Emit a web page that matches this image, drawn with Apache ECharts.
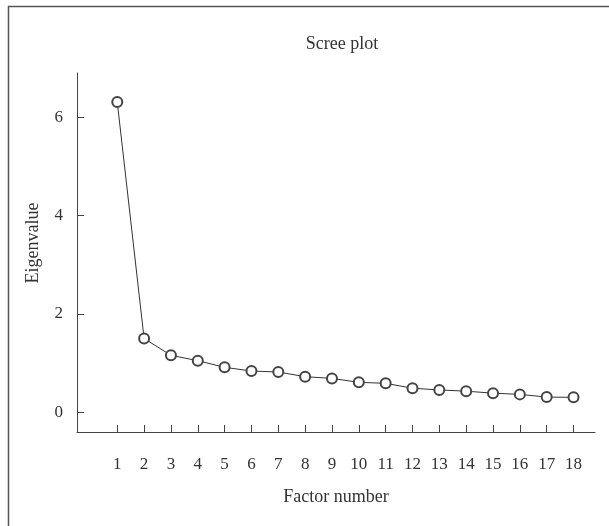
<!DOCTYPE html>
<html>
<head>
<meta charset="utf-8">
<script src="https://cdn.jsdelivr.net/npm/echarts@6/dist/echarts.min.js"></script>
<style>
  html, body { margin: 0; padding: 0; background: #fff; }
  #main { width: 609px; height: 526px; }
</style>
</head>
<body>
<div id="main"></div>
<script>
// scree plot data
var factors = [1, 2, 3, 4, 5, 6, 7, 8, 9, 10, 11, 12, 13, 14, 15, 16, 17, 18];
var eigenvalues = [6.31, 1.50, 1.16, 1.05, 0.915, 0.84, 0.82, 0.725, 0.69, 0.61, 0.59, 0.49, 0.455, 0.43, 0.39, 0.365, 0.31, 0.305];
var yTicks = [0, 2, 4, 6];

var chart = echarts.init(document.getElementById('main'));
var font = '"Liberation Serif", "DejaVu Serif", serif';
var ink = '#333';

chart.setOption({
  animation: false,
  textStyle: { fontFamily: font },
  title: {
    text: 'Scree plot',
    left: 337,
    top: 30,
    textAlign: 'center',
    textStyle: { fontFamily: font, fontWeight: 'normal', fontSize: 18, color: ink }
  },
  grid: { left: 77, right: 14, top: 73, bottom: 94 },
  xAxis: {
    type: 'value',
    min: -0.5,
    max: 18.8,
    name: 'Factor number',
    nameLocation: 'middle',
    nameGap: 56,
    nameTextStyle: { fontFamily: font, fontSize: 18, color: ink },
    splitLine: { show: false },
    axisLine: { onZero: false, lineStyle: { color: '#444', width: 1 } },
    axisTick: { inside: true, length: 7, customValues: factors, lineStyle: { color: '#444' } },
    axisLabel: { customValues: factors, margin: 24, fontFamily: font, fontSize: 17, color: ink }
  },
  yAxis: {
    type: 'value',
    min: -0.4,
    max: 6.9,
    splitLine: { show: false },
    axisLine: { show: true, onZero: false, lineStyle: { color: '#444', width: 1 } },
    axisTick: { show: true, inside: true, length: 7, customValues: yTicks, lineStyle: { color: '#444' } },
    axisLabel: { customValues: yTicks, margin: 14, fontFamily: font, fontSize: 17, color: ink }
  },
  series: [{
    type: 'line',
    data: factors.map(function (f, i) { return [f, eigenvalues[i]]; }),
    symbol: 'emptyCircle',
    symbolSize: 10,
    lineStyle: { color: ink, width: 1 },
    itemStyle: { color: '#444', borderColor: '#444', borderWidth: 0.9 }
  }],
  graphic: [
    { type: 'line', shape: { x1: 8.5, y1: 6, x2: 8.5, y2: 526 }, style: { stroke: '#555', lineWidth: 1.5 } },
    { type: 'line', shape: { x1: 8, y1: 6.5, x2: 609, y2: 6.5 }, style: { stroke: '#555', lineWidth: 1.5 } },
    // y axis title
    {
      type: 'text', x: 33, y: 243, rotation: Math.PI / 2,
      style: { text: 'Eigenvalue', fill: ink, font: '18px ' + font, align: 'center', verticalAlign: 'middle' }
    }
  ]
});
</script>
</body>
</html>
